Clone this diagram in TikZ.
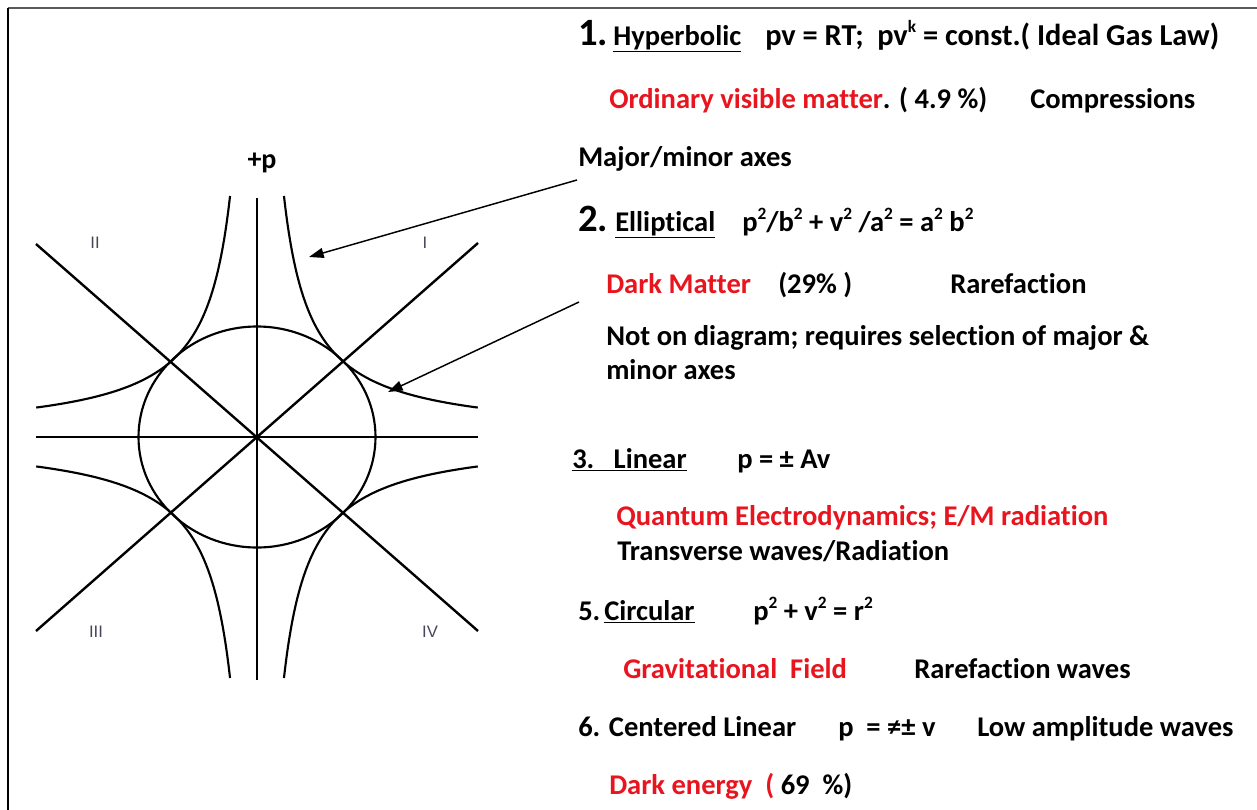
\documentclass[tikz,border=0pt]{standalone}
\usepackage{fontspec}
\setmainfont{Carlito}[Ligatures=NoCommon]
\newfontfamily\arialf{Liberation Sans}
\usetikzlibrary{arrows.meta}
\definecolor{myred}{RGB}{232,20,30}
\definecolor{numgray}{RGB}{70,70,90}
\definecolor{framegray}{RGB}{90,90,90}
\newcommand\sps[1]{\raisebox{0.42em}{\fontsize{13}{13}\selectfont #1}}
\begin{document}
\begin{tikzpicture}[x=0.75pt,y=-0.75pt,
  txt/.style={anchor=base west, inner sep=0pt, font=\bfseries\fontsize{21.4}{25}\selectfont},
  txtb/.style={anchor=base west, inner sep=0pt, font=\bfseries\fontsize{22.8}{26}\selectfont},
  rd/.style={txt, text=myred},
  bignum/.style={txt, font=\bfseries\fontsize{29}{32}\selectfont},
  quad/.style={anchor=center, inner sep=0pt, text=numgray, font=\arialf\fontsize{12.5}{13}\selectfont},
  curve/.style={line width=1.6pt},
  axisline/.style={line width=1.8pt},
  pointer/.style={line width=1.1pt, -{Triangle[length=11pt,width=7.5pt]}}]
\useasboundingbox (0,0) rectangle (1257,810);
% frame
\draw[framegray, line width=1.6pt] (8,8) -- (1257,8);
\draw[black, line width=2pt] (8,8) -- (8,810);

% ---------- diagram ----------
\coordinate (O) at (257,437);
\draw[axisline] (257,198) -- (257,680);
\draw[axisline] (36,437) -- (478,437);
\draw[axisline] (36,244) -- (478,631);
\draw[axisline] (36,631) -- (478,243);
\draw[curve] (O) ellipse [x radius=118.5, y radius=110.5];
\draw[curve] plot[domain=-1.095:1.008, samples=80, smooth] ({257+80.62*exp(\x)},{437-80.62*exp(-\x)});
\draw[curve] plot[domain=-1.095:1.008, samples=80, smooth] ({257-80.62*exp(\x)},{437-80.62*exp(-\x)});
\draw[curve] plot[domain=-1.095:1.008, samples=80, smooth] ({257-80.62*exp(\x)},{437+80.62*exp(-\x)});
\draw[curve] plot[domain=-1.095:1.008, samples=80, smooth] ({257+80.62*exp(\x)},{437+80.62*exp(-\x)});

\node[anchor=center, inner sep=0pt, font=\bfseries\fontsize{21}{24}\selectfont] (plabel) at (262,163) {+p};
\node[quad] (qII) at (95,243) {II};
\node[quad] (qI) at (425,243) {I};
\node[quad] (qIII) at (96,632) {III};
\node[quad] (qIV) at (430,632) {IV};

% arrows
\coordinate (a1s) at (577,180);
\coordinate (a1e) at (309,257);
\coordinate (a2s) at (579,302);
\coordinate (a2e) at (388,392);
\draw[pointer] (a1s) -- (a1e);
\draw[pointer] (a2s) -- (a2e);

% ---------- text ----------
\node[bignum] (n1) at (578,45) {1.};
\node[txt] (hyp) at (613,45) {\underline{Hyperbolic}};
\node[txtb] (pvrt) at (765,45) {pv = RT;};
\node[txtb] (pvk) at (877,45) {pv\sps{k} = const.( Ideal Gas Law)};

\node[txt] (ovm) at (609,108) {\textcolor{myred}{Ordinary visible matter}. ( 4.9 \%)};
\node[txt] (comp) at (1030,108) {Compressions};

\node[txt] (major) at (578,166) {Major/minor axes};

\node[bignum] (n2) at (578,231) {2.};
\node[txt] (ell) at (615,231) {\underline{Elliptical}};
\node[txt] (elleq) at (742,231) {p\sps{2}/b\sps{2} + v\sps{2} /a\sps{2} = a\sps{2} b\sps{2}};

\node[rd] (dm) at (606,293) {Dark Matter};
\node[txt] (dmp) at (778,293) {(29\% )};
\node[txt] (rare) at (950,293) {Rarefaction};

\node[txt] (nod1) at (606,345) {Not on diagram; requires selection of major \&};
\node[txt] (nod2) at (606,379) {minor axes};

\node[txt] (lin) at (572,468) {\underline{3.\ \ \ Linear}};
\node[txt] (lineq) at (737,468) {p = ± Av};

\node[rd] (qed) at (616,525) {Quantum Electrodynamics; E/M radiation};
\node[txt] (trans) at (617,560) {Transverse waves/Radiation};

\node[txt] (n5) at (578,620) {5.};
\node[txt] (circ) at (604,620) {\underline{Circular}};
\node[txt] (circeq) at (753,620) {p\sps{2} + v\sps{2} = r\sps{2}};

\node[rd] (grav) at (623,678) {Gravitational\ \ Field};
\node[txt] (rarew) at (914,678) {Rarefaction waves};

\node[txt] (cl) at (578,736) {6. Centered Linear};
\node[txt] (cleq) at (838,736) {p\ \ = ≠± v};
\node[txt] (low) at (977,736) {Low amplitude waves};

\node[txt] (de) at (609,794) {\textcolor{myred}{Dark energy\ \ (} 69\ \ \%)};
\end{tikzpicture}
\end{document}
